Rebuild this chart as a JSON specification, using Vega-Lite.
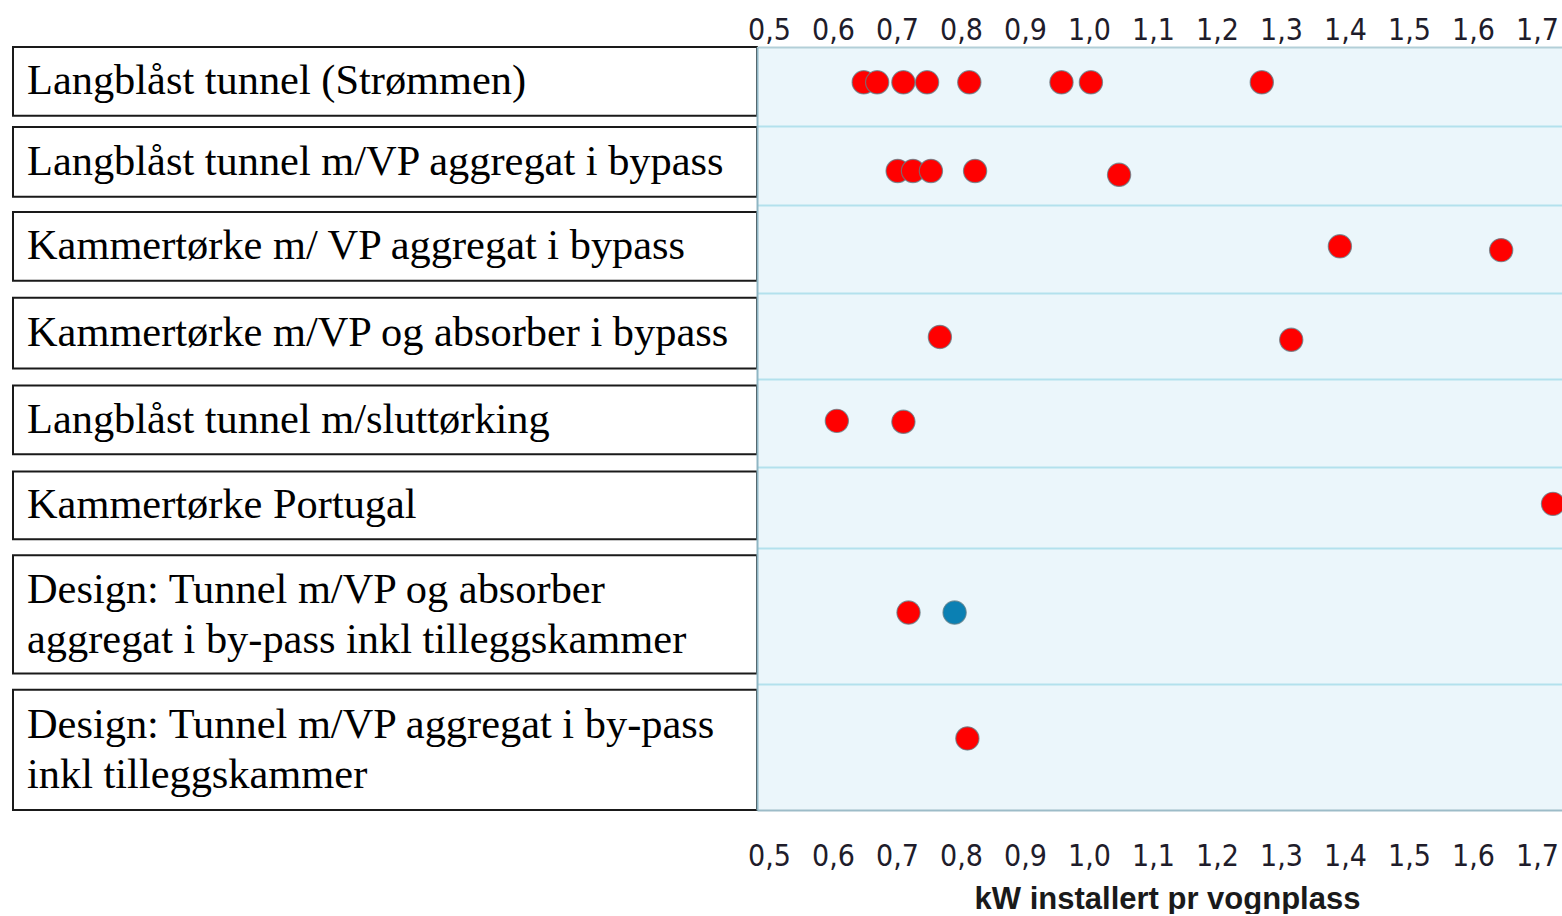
{
  "$schema": "https://vega.github.io/schema/vega-lite/v6.json",
  "padding": {"left": 12, "top": 15, "right": 0, "bottom": 0},
  "background": "white",
  "spacing": 0,
  "bounds": "flush",
  "config": {
    "view": {"stroke": null},
    "axis": {"labelFont": "DejaVu Sans Condensed, Roboto, sans-serif", "labelFontSize": 30, "labelColor": "#1f1d2b"}
  },
  "datasets": {
    "rows": [
      {"kategori": "Langblåst tunnel (Strømmen)", "label": "Langblåst tunnel (Strømmen)", "top": 0.0, "bottom": 0.72, "tekst_y": 0.36},
      {"kategori": "Langblåst tunnel m/VP aggregat i bypass", "label": "Langblåst tunnel m/VP aggregat i bypass", "top": 0.84, "bottom": 1.57, "tekst_y": 1.205},
      {"kategori": "Kammertørke m/ VP aggregat i bypass", "label": "Kammertørke m/ VP aggregat i bypass", "top": 1.73, "bottom": 2.45, "tekst_y": 2.09},
      {"kategori": "Kammertørke m/VP og absorber i bypass", "label": "Kammertørke m/VP og absorber i bypass", "top": 2.63, "bottom": 3.37, "tekst_y": 3.0},
      {"kategori": "Langblåst tunnel m/sluttørking", "label": "Langblåst tunnel m/sluttørking", "top": 3.55, "bottom": 4.27, "tekst_y": 3.91},
      {"kategori": "Kammertørke Portugal", "label": "Kammertørke Portugal", "top": 4.45, "bottom": 5.16, "tekst_y": 4.805},
      {"kategori": "Design: Tunnel m/VP og absorber aggregat i by-pass inkl tilleggskammer", "label": ["Design: Tunnel m/VP og absorber", "aggregat i by-pass inkl tilleggskammer"], "top": 5.33, "bottom": 6.57, "tekst_y": 5.69},
      {"kategori": "Design: Tunnel m/VP aggregat i by-pass inkl tilleggskammer", "label": ["Design: Tunnel m/VP aggregat i by-pass", "inkl tilleggskammer"], "top": 6.74, "bottom": 8.0, "tekst_y": 7.11}
    ],
    "points": [
      {"kategori": "Langblåst tunnel (Strømmen)", "kw": 0.648, "pos": 0.37, "serie": "målt"},
      {"kategori": "Langblåst tunnel (Strømmen)", "kw": 0.669, "pos": 0.37, "serie": "målt"},
      {"kategori": "Langblåst tunnel (Strømmen)", "kw": 0.71, "pos": 0.37, "serie": "målt"},
      {"kategori": "Langblåst tunnel (Strømmen)", "kw": 0.747, "pos": 0.37, "serie": "målt"},
      {"kategori": "Langblåst tunnel (Strømmen)", "kw": 0.813, "pos": 0.37, "serie": "målt"},
      {"kategori": "Langblåst tunnel (Strømmen)", "kw": 0.957, "pos": 0.37, "serie": "målt"},
      {"kategori": "Langblåst tunnel (Strømmen)", "kw": 1.003, "pos": 0.37, "serie": "målt"},
      {"kategori": "Langblåst tunnel (Strømmen)", "kw": 1.27, "pos": 0.37, "serie": "målt"},
      {"kategori": "Langblåst tunnel m/VP aggregat i bypass", "kw": 0.701, "pos": 1.3, "serie": "målt"},
      {"kategori": "Langblåst tunnel m/VP aggregat i bypass", "kw": 0.725, "pos": 1.3, "serie": "målt"},
      {"kategori": "Langblåst tunnel m/VP aggregat i bypass", "kw": 0.753, "pos": 1.3, "serie": "målt"},
      {"kategori": "Langblåst tunnel m/VP aggregat i bypass", "kw": 0.822, "pos": 1.3, "serie": "målt"},
      {"kategori": "Langblåst tunnel m/VP aggregat i bypass", "kw": 1.047, "pos": 1.34, "serie": "målt"},
      {"kategori": "Kammertørke m/ VP aggregat i bypass", "kw": 1.392, "pos": 2.09, "serie": "målt"},
      {"kategori": "Kammertørke m/ VP aggregat i bypass", "kw": 1.644, "pos": 2.13, "serie": "målt"},
      {"kategori": "Kammertørke m/VP og absorber i bypass", "kw": 0.767, "pos": 3.04, "serie": "målt"},
      {"kategori": "Kammertørke m/VP og absorber i bypass", "kw": 1.316, "pos": 3.07, "serie": "målt"},
      {"kategori": "Langblåst tunnel m/sluttørking", "kw": 0.606, "pos": 3.92, "serie": "målt"},
      {"kategori": "Langblåst tunnel m/sluttørking", "kw": 0.71, "pos": 3.93, "serie": "målt"},
      {"kategori": "Kammertørke Portugal", "kw": 1.725, "pos": 4.79, "serie": "målt"},
      {"kategori": "Design: Tunnel m/VP og absorber aggregat i by-pass inkl tilleggskammer", "kw": 0.718, "pos": 5.93, "serie": "målt"},
      {"kategori": "Design: Tunnel m/VP og absorber aggregat i by-pass inkl tilleggskammer", "kw": 0.79, "pos": 5.93, "serie": "design"},
      {"kategori": "Design: Tunnel m/VP aggregat i by-pass inkl tilleggskammer", "kw": 0.81, "pos": 7.25, "serie": "målt"}
    ]
  },
  "hconcat": [
    {
      "width": 744,
      "height": 763,
      "view": {"stroke": null, "fill": null},
      "data": {"name": "rows"},
      "layer": [
        {
          "mark": {"type": "rect", "fill": "white", "stroke": "#1a1a1a", "strokeWidth": 2},
          "encoding": {
            "y": {"field": "top", "type": "quantitative", "scale": {"domain": [0, 8], "reverse": true, "nice": false, "zero": false}, "axis": null},
            "y2": {"field": "bottom"}
          }
        },
        {
          "mark": {"type": "text", "align": "left", "baseline": "middle", "font": "Liberation Serif", "fontSize": 42.4, "lineHeight": 50, "color": "#000000"},
          "encoding": {
            "x": {"value": 14},
            "y": {"field": "tekst_y", "type": "quantitative", "scale": {"domain": [0, 8], "reverse": true, "nice": false, "zero": false}, "axis": null},
            "text": {"field": "label"}
          }
        }
      ]
    },
    {
      "width": 806,
      "height": 763,
      "view": {"stroke": null, "fill": "#ebf6fb"},
      "data": {"name": "points"},
      "layer": [
        {
          "transform": [{"filter": "datum.serie === 'målt'"}],
          "mark": {"type": "circle", "size": 540, "opacity": 1, "stroke": "#607f88", "strokeWidth": 1.2, "strokeOpacity": 0.75, "clip": true},
          "encoding": {
            "x": {
              "field": "kw", "type": "quantitative",
              "scale": {"domain": [0.48125, 1.740625], "nice": false, "zero": false},
              "axis": {
                "orient": "bottom", "values": [0.5, 0.6, 0.7, 0.8, 0.9, 1.0, 1.1, 1.2, 1.3, 1.4, 1.5, 1.6, 1.7],
                "labelExpr": "replace(format(datum.value, '.1f'), '.', ',')",
                "ticks": false, "tickSize": 0, "grid": false, "labelFlush": false,
                "labelBaseline": "alphabetic", "labelPadding": 55,
                "domain": true, "domainColor": "#9dbcc8", "domainWidth": 2,
                "title": "kW installert pr vognplass",
                "titleFont": "Liberation Sans", "titleFontSize": 31, "titleFontWeight": "bold", "titleColor": "#1a1a1a",
                "titleBaseline": "alphabetic", "titleY": 98, "titleX": 410
              }
            },
            "y": {
              "field": "pos", "type": "quantitative",
              "scale": {"domain": [0, 8], "reverse": true, "nice": false, "zero": false},
              "axis": {"values": [0.83, 1.66, 2.58, 3.48, 4.4, 5.25, 6.68], "grid": true, "gridColor": "#b3e1ed", "gridWidth": 2, "labels": false, "ticks": false, "title": null, "domain": true, "domainColor": "#8fb6c4", "domainWidth": 2}
            },
            "color": {"field": "serie", "type": "nominal", "scale": {"domain": ["målt", "design"], "range": ["#ff0000", "#0b80b3"]}, "legend": null}
          }
        },
        {
          "transform": [{"filter": "datum.serie === 'design'"}],
          "mark": {"type": "circle", "size": 540, "opacity": 1, "stroke": "#607f88", "strokeWidth": 1.2, "strokeOpacity": 0.75, "clip": true},
          "encoding": {
            "x": {
              "field": "kw", "type": "quantitative",
              "scale": {"domain": [0.48125, 1.740625], "nice": false, "zero": false},
              "axis": {
                "orient": "top", "values": [0.5, 0.6, 0.7, 0.8, 0.9, 1.0, 1.1, 1.2, 1.3, 1.4, 1.5, 1.6, 1.7],
                "labelExpr": "replace(format(datum.value, '.1f'), '.', ',')",
                "ticks": false, "tickSize": 0, "grid": false, "labelFlush": false,
                "labelBaseline": "alphabetic", "labelPadding": 8,
                "domain": true, "domainColor": "#b3cfd8", "domainWidth": 2,
                "title": null
              }
            },
            "y": {
              "field": "pos", "type": "quantitative",
              "scale": {"domain": [0, 8], "reverse": true, "nice": false, "zero": false},
              "axis": {"values": [0.83, 1.66, 2.58, 3.48, 4.4, 5.25, 6.68], "grid": true, "gridColor": "#b3e1ed", "gridWidth": 2, "labels": false, "ticks": false, "title": null, "domain": true, "domainColor": "#8fb6c4", "domainWidth": 2}
            },
            "color": {"field": "serie", "type": "nominal", "scale": {"domain": ["målt", "design"], "range": ["#ff0000", "#0b80b3"]}, "legend": null}
          }
        }
      ],
      "resolve": {"axis": {"x": "independent"}}
    }
  ]
}
